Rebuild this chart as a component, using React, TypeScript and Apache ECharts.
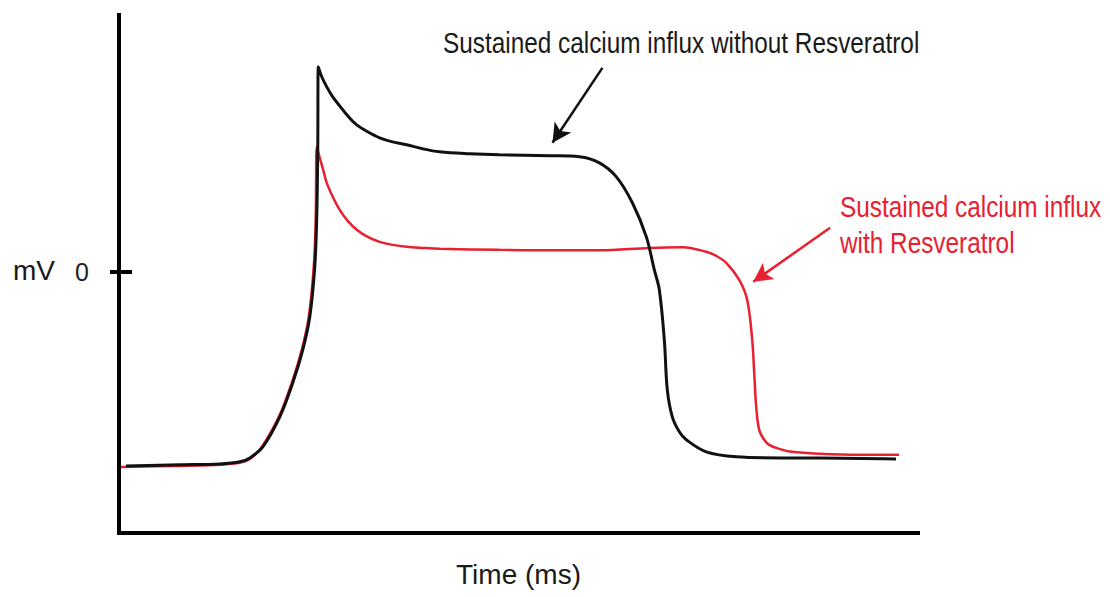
import React, { useEffect, useRef } from "react";
import * as echarts from "echarts";

// Time (ms) and membrane potential (mV)
const blackTime = [3.5, 30.5, 50.5, 60.5, 65.5, 72, 80.5, 87, 92, 95.5, 98, 99, 99.5, 99.75, 101.5, 104, 107, 110.5, 114.5, 119, 124.5, 130.5, 137, 144, 152, 160.5, 175.5, 190.5, 215.5, 230.5, 240.5, 249, 257, 264, 268, 270.5, 273, 274.5, 277, 280.5, 284, 294, 309, 330.5, 350.5, 389];
const blackMv = [-89.9, -89.4, -89.0, -88.0, -86.2, -81.1, -67.2, -51.4, -36.1, -20.9, 2.3, 25.5, 56.5, 95.0, 90.4, 85.7, 81.1, 76.9, 72.3, 68.1, 64.9, 62.1, 60.2, 58.9, 57.0, 55.6, 54.7, 54.2, 53.8, 53.3, 50.5, 44.0, 32.0, 16.2, 0.9, -8.3, -31.5, -54.7, -67.2, -74.1, -77.8, -83.4, -85.7, -86.2, -86.2, -86.7];

const redTime = [1, 30.5, 50.5, 60.5, 65.5, 71.5, 80, 86.5, 91.5, 95, 97.5, 98.5, 99, 100.5, 102.5, 104, 107, 110.5, 114.5, 119, 124.5, 130.5, 137, 144, 152, 160.5, 190.5, 215.5, 240.5, 265.5, 282, 294, 299, 304, 310.5, 314.5, 317, 318, 319, 320.5, 323, 325.5, 330.5, 337, 350.5, 370.5, 390.5];
const redMv = [-90.4, -89.9, -89.4, -88.5, -86.7, -81.1, -67.2, -51.4, -36.1, -20.9, 2.3, 25.5, 57.9, 52.8, 46.3, 41.2, 34.8, 28.7, 23.6, 19.5, 16.2, 13.9, 12.5, 11.6, 11.1, 10.7, 10.2, 10.0, 10.0, 11.1, 11.4, 9.3, 7.4, 4.2, -3.7, -13.0, -31.5, -46.8, -62.6, -73.2, -77.8, -80.2, -82.0, -83.4, -84.3, -84.8, -84.8];

const yTicks = [0];
const yUnit = "mV";
const blackLabel = "Sustained calcium influx without Resveratrol";
const redLabel1 = "Sustained calcium influx";
const redLabel2 = "with Resveratrol";
// arrows: [start, tip] in (ms, mV)
const blackArrow = [[242, 94.5], [217, 59.8]];
const redArrow = [[356, 20.4], [317.5, -4.6]];
// inner half of the tick at 0 mV: [start, end] in (ms, mV)
const innerTick = [[0, 0], [6.5, 0]];

const RED = "#e8202f";
const FONT = "'Liberation Sans', Arial, sans-serif";

function zip(xs: number[], ys: number[]) {
  return xs.map((x, i) => [x, ys[i]]);
}

export default function App() {
  const ref = useRef<HTMLDivElement>(null);
  useEffect(() => {
    if (!ref.current) return;
    const chart = echarts.init(ref.current, null, { renderer: "svg" });
    chart.setOption({
      animation: false,
      grid: { left: 119, right: 192, top: 15, bottom: 64, containLabel: false, outerBoundsMode: "none" },
      xAxis: {
        type: "value",
        min: 0,
        max: 400,
        splitLine: { show: false },
        axisTick: { show: false },
        axisLabel: { show: false },
        axisLine: { show: true, onZero: false, lineStyle: { color: "#000", width: 4, cap: "square" } },
        name: "Time (ms)",
        nameLocation: "middle",
        nameGap: 27,
        nameTextStyle: { fontSize: 28, color: "#1a1a1a", fontFamily: FONT },
      },
      yAxis: {
        type: "value",
        min: -121,
        max: 119,
        splitLine: { show: false },
        axisLine: { show: true, onZero: false, lineStyle: { color: "#000", width: 4, cap: "square" } },
        axisTick: { show: true, customValues: yTicks, length: 9, inside: false, lineStyle: { color: "#000", width: 4 } },
        axisLabel: {
          show: true,
          customValues: yTicks,
          margin: 30,
          fontSize: 25,
          color: "#222",
          fontFamily: FONT,
          padding: [0, 0, 2, 0],
        },
      },
      series: [
        {
          type: "line",
          data: zip(blackTime, blackMv),
          showSymbol: false,
          smooth: 0.35,
          lineStyle: { color: "#111", width: 3 },
          z: 3,
          markLine: {
            silent: true,
            symbol: ["none", "arrow"],
            symbolSize: [15, 19],
            label: { show: false },
            lineStyle: { color: "#111", width: 2.5, type: "solid" },
            data: [
              [{ coord: blackArrow[0] }, { coord: blackArrow[1] }],
              [
                { coord: innerTick[0], symbol: "none", lineStyle: { color: "#000", width: 4 } },
                { coord: innerTick[1], symbol: "none" },
              ],
            ],
          },
        },
        {
          type: "line",
          data: zip(redTime, redMv),
          showSymbol: false,
          smooth: 0.35,
          lineStyle: { color: RED, width: 2.5 },
          z: 2,
          markLine: {
            silent: true,
            symbol: ["none", "arrow"],
            symbolSize: [15, 19],
            label: { show: false },
            lineStyle: { color: RED, width: 2.5, type: "solid" },
            data: [[{ coord: redArrow[0] }, { coord: redArrow[1] }]],
          },
        },
      ],
      graphic: [
        {
          type: "text",
          x: 55,
          y: 270,
          style: { x: 0, y: 0, text: yUnit, fontSize: 28, fontFamily: FONT, fill: "#1a1a1a", textAlign: "right", textVerticalAlign: "middle" },
        },
        {
          type: "text",
          x: 443,
          y: 43,
          scaleX: 0.84,
          style: { x: 0, y: 0, text: blackLabel, fontSize: 29, fontFamily: FONT, fill: "#1a1a1a", textAlign: "left", textVerticalAlign: "middle" },
        },
        {
          type: "text",
          x: 840,
          y: 207,
          scaleX: 0.84,
          style: { x: 0, y: 0, text: redLabel1, fontSize: 29, fontFamily: FONT, fill: RED, textAlign: "left", textVerticalAlign: "middle" },
        },
        {
          type: "text",
          x: 840,
          y: 243,
          scaleX: 0.84,
          style: { x: 0, y: 0, text: redLabel2, fontSize: 29, fontFamily: FONT, fill: RED, textAlign: "left", textVerticalAlign: "middle" },
        },
      ],
    });
    return () => chart.dispose();
  }, []);
  return (
    <div
      ref={ref}
      style={{ position: "fixed", left: 0, top: 0, width: 1110, height: 597, background: "#fff" }}
    />
  );
}
